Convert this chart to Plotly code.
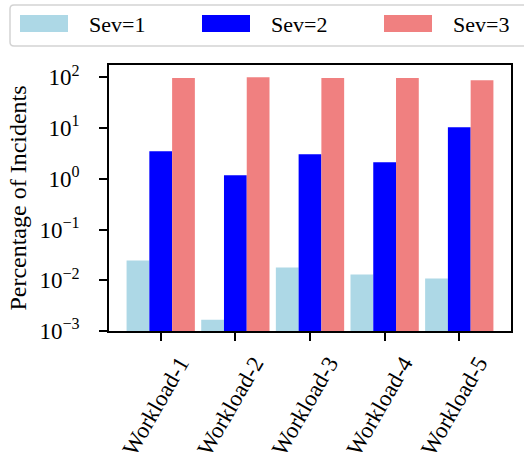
import plotly.graph_objects as go

categories = ["Workload-1", "Workload-2", "Workload-3", "Workload-4", "Workload-5"]
sev1 = [0.0245, 0.00167, 0.0178, 0.013, 0.0108]
sev2 = [3.5, 1.17, 3.05, 2.12, 10.4]
sev3 = [97, 100, 97, 97, 88]
series_names = ["Sev=1", "Sev=2", "Sev=3"]
colors = ["#add8e6", "#0000ff", "#f08080"]
tick_vals = [1e-3, 1e-2, 1e-1, 1e0, 1e1, 1e2]
tick_text = ["10<sup>−3</sup>", "10<sup>−2</sup>", "10<sup>−1</sup>",
             "10<sup>0</sup>", "10<sup>1</sup>", "10<sup>2</sup>"]

FONT = "Liberation Serif"
FS = 23
W, H = 524, 460
# plot area in page pixels: x 109..510.7, y 65..331
ML, MT = 109, 65
PW, PH = 402, 266
MR = W - ML - PW
MB = H - MT - PH


def px_x(p):
    return (p - ML) / PW


def px_y(p):
    return (MT + PH - p) / PH


fig = go.Figure()
for name, vals, col in zip(series_names, [sev1, sev2, sev3], colors):
    fig.add_trace(go.Bar(x=categories, y=vals, name=name, marker_color=col,
                         marker_line_width=0, showlegend=False, hoverinfo="skip"))

shapes = []
annotations = []
# legend frame (rounded; its right edge runs past the canvas as in the reference)
x0, x1, y0, y1 = 10, 532, 5, 46
r = 4
path = (f"M {px_x(x0 + r)} {px_y(y0)} L {px_x(x1 - r)} {px_y(y0)} "
        f"Q {px_x(x1)} {px_y(y0)} {px_x(x1)} {px_y(y0 + r)} "
        f"L {px_x(x1)} {px_y(y1 - r)} Q {px_x(x1)} {px_y(y1)} {px_x(x1 - r)} {px_y(y1)} "
        f"L {px_x(x0 + r)} {px_y(y1)} Q {px_x(x0)} {px_y(y1)} {px_x(x0)} {px_y(y1 - r)} "
        f"L {px_x(x0)} {px_y(y0 + r)} Q {px_x(x0)} {px_y(y0)} {px_x(x0 + r)} {px_y(y0)} Z")
shapes.append(dict(type="path", xref="paper", yref="paper", path=path,
                   line=dict(color="#d3d3d3", width=1.5), fillcolor="white"))
sw_x = [20, 202, 384]
txt_x = [87, 269, 451]
for sx, tx, name, col in zip(sw_x, txt_x, series_names, colors):
    shapes.append(dict(type="rect", xref="paper", yref="paper",
                       x0=px_x(sx), x1=px_x(sx + 48), y0=px_y(32), y1=px_y(15),
                       fillcolor=col, line=dict(width=0)))
    annotations.append(dict(text=name, xref="paper", yref="paper", x=px_x(tx), y=px_y(24),
                            xanchor="left", yanchor="middle", showarrow=False,
                            font=dict(family=FONT, size=22, color="black")))

fig.update_layout(
    width=W, height=H,
    margin=dict(l=ML, r=MR, t=MT, b=MB, autoexpand=False),
    paper_bgcolor="white", plot_bgcolor="white",
    barmode="group", bargap=0.085, bargroupgap=0,
    font=dict(family=FONT, size=FS, color="black"),
    shapes=shapes, annotations=annotations,
)
fig.update_xaxes(range=[-0.693, 4.693], showline=True, mirror=True, linecolor="black",
                 linewidth=1.5, ticks="outside", ticklen=8, tickwidth=1.5, tickcolor="black",
                 tickangle=-60, showgrid=False, ticklabelshift=19,
                 tickfont=dict(family=FONT, size=FS))
fig.update_yaxes(type="log", range=[-3, 2.243], showline=True, mirror=True, linecolor="black",
                 linewidth=1.5, ticks="outside", ticklen=8, tickwidth=1.5, tickcolor="black",
                 tickvals=tick_vals, ticktext=tick_text, showgrid=False,
                 ticklabelstandoff=15,
                 tickfont=dict(family=FONT, size=FS),
                 title=dict(text="Percentage of Incidents", font=dict(family=FONT, size=24),
                            standoff=6))
fig.write_html("out.html", config={"displayModeBar": False},
               post_script="document.body.style.margin='0';document.body.style.overflow='hidden';")
